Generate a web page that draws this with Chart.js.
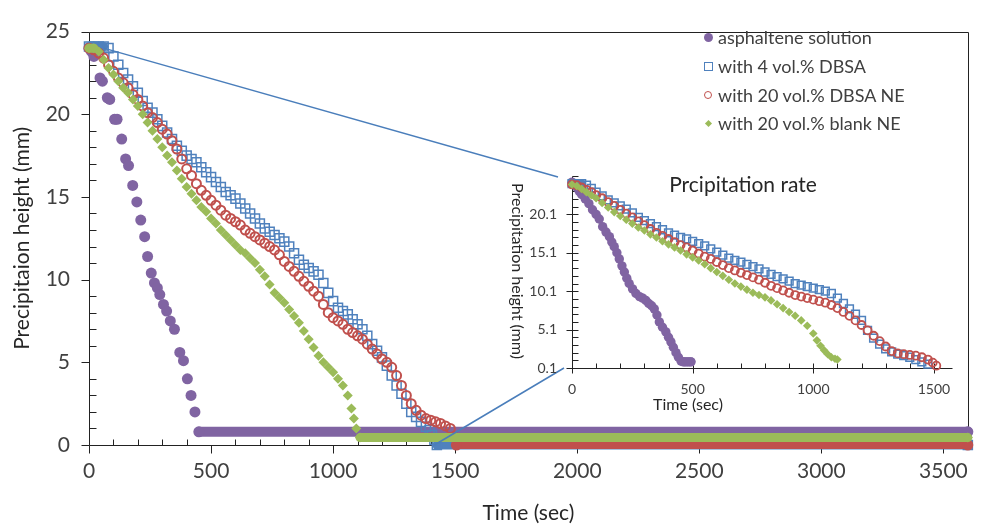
<!DOCTYPE html>
<html>
<head>
<meta charset="utf-8">
<script src="https://cdn.jsdelivr.net/npm/chart.js@4.4.0/dist/chart.umd.min.js"></script>
<style>
    html, body { margin: 0; padding: 0; background: #fff; }
    #wrap { position: relative; width: 982px; height: 529px; overflow: hidden; }
    #mainChart { position: absolute; left: 0; top: 0; }
    #insetChart { position: absolute; left: 480px; top: 150px; }
    #legend { position: absolute; left: 700px; top: 23px; font: 18px Lato, 'Open Sans', sans-serif; color: #404040; }
    #legend .row { height: 28.7px; display: flex; align-items: center; white-space: nowrap; }
    #legend .mk { width: 16px; height: 16px; margin-right: 2px; display: flex; align-items: center; justify-content: center; }
</style>
</head>
<body>
<div id="wrap">
    <canvas id="mainChart" width="982" height="529"></canvas>
    <canvas id="insetChart" width="490" height="280"></canvas>
    <div id="legend"></div>
</div>
<script>
const FONT = "Lato, 'Open Sans', sans-serif";

// series names and colours
const seriesNames = ['asphaltene solution', 'with 4 vol.% DBSA', 'with 20 vol.% DBSA NE', 'with 20 vol.% blank NE'];
const seriesColors = ['#8064A2', '#4F81BD', '#C0504D', '#9BBB59'];

// tick labels
const mainXTicks = [0, 500, 1000, 1500, 2000, 2500, 3000, 3500];
const mainYTicks = [0, 5, 10, 15, 20, 25];
const insetXTicks = [0, 500, 1000, 1500];
const insetYTicks = [0.1, 5.1, 10.1, 15.1, 20.1];

// main chart data: [time (sec), height (mm)]
const asphalteneMain = [[0,24.0],[10,23.8],[20,23.5],[45,22.2],[55,22.0],[75,21.0],[85,20.9],[105,19.7],[115,19.7],[134,18.5],[150,17.3],[162,16.9],[179,15.7],[196,14.7],[212,13.6],[228,12.6],[240,11.4],[255,10.4],[268,9.8],[280,9.5],[290,9.1],[305,8.5],[318,8.1],[333,7.5],[350,7.0],[372,5.6],[387,5.1],[403,4.0],[418,3.0],[434,2.0],[450,0.8],[3600,0.8]];
const dbsaMain = [[0,24.1],[20,24.1],[40,24.1],[60,24.1],[80,24.0],[100,23.5],[120,23.0],[140,22.5],[160,22.1],[180,21.7],[200,21.3],[220,20.8],[240,20.4],[260,20.1],[280,19.7],[300,19.3],[320,18.9],[340,18.5],[360,18.1],[380,17.8],[400,17.5],[420,17.3],[440,17.1],[460,16.8],[480,16.5],[500,16.2],[520,15.9],[540,15.6],[560,15.3],[580,15.1],[600,14.9],[620,14.6],[640,14.3],[660,14.0],[680,13.7],[700,13.4],[720,13.1],[740,12.9],[760,12.7],[780,12.5],[800,12.3],[820,12.0],[840,11.6],[860,11.2],[880,10.9],[900,10.7],[920,10.5],[940,10.3],[960,9.8],[980,9.2],[1000,8.7],[1020,8.3],[1040,8.1],[1060,7.9],[1080,7.6],[1100,7.3],[1120,7.0],[1140,6.6],[1160,6.1],[1180,5.7],[1200,5.3],[1220,4.8],[1240,4.2],[1260,3.6],[1280,3.1],[1300,2.5],[1320,2.0],[1340,1.7],[1360,1.4],[1380,1.1],[1395,0.9],[1405,0.6],[1415,0.3],[1425,0],[3600,0]];
const dbsaNeMain = [[0,24.0],[20,23.9],[40,23.7],[60,23.4],[80,23.0],[100,22.6],[120,22.2],[140,21.9],[160,21.6],[180,21.2],[200,20.9],[220,20.5],[240,20.1],[260,19.8],[280,19.5],[300,19.1],[320,18.8],[340,18.4],[360,17.9],[380,17.3],[400,16.7],[420,16.3],[440,15.8],[460,15.4],[480,15.1],[500,14.8],[520,14.5],[540,14.2],[560,13.9],[580,13.7],[600,13.5],[620,13.3],[640,13.0],[660,12.8],[680,12.6],[700,12.4],[720,12.2],[740,12.0],[760,11.8],[780,11.5],[800,11.1],[820,10.8],[840,10.5],[860,10.2],[880,9.9],[900,9.6],[920,9.3],[940,9.0],[960,8.5],[980,8.0],[1000,7.7],[1020,7.5],[1040,7.3],[1060,7.0],[1080,6.8],[1100,6.6],[1120,6.4],[1140,6.1],[1160,5.8],[1180,5.5],[1200,5.2],[1220,5.0],[1240,4.7],[1260,4.2],[1280,3.6],[1300,3.0],[1320,2.5],[1340,2.1],[1360,1.8],[1380,1.6],[1400,1.5],[1420,1.4],[1440,1.3],[1460,1.15],[1480,1.0],[1495,0.5],[1505,0],[3600,0]];
const blankNeMain = [[0,24.0],[20,24.0],[40,23.8],[60,23.3],[80,22.8],[100,22.4],[120,22.0],[140,21.6],[160,21.3],[180,20.9],[200,20.5],[220,20.0],[240,19.5],[260,19.0],[280,18.5],[300,18.0],[320,17.5],[340,17.1],[360,16.6],[380,16.1],[400,15.6],[420,15.2],[440,14.8],[460,14.4],[480,14.1],[500,13.7],[520,13.4],[540,13.0],[560,12.7],[580,12.4],[600,12.1],[620,11.8],[640,11.6],[660,11.3],[680,11.0],[700,10.6],[720,10.2],[740,9.7],[760,9.2],[780,8.9],[800,8.6],[820,8.2],[840,7.8],[860,7.4],[880,6.9],[900,6.4],[920,5.9],[940,5.4],[960,5.0],[980,4.7],[1000,4.4],[1020,4.0],[1040,3.6],[1060,3.0],[1075,2.2],[1085,1.6],[1095,1.0],[1110,0.45],[3600,0.45]];

// inset chart data: [time (sec), height (mm)]
const asphalteneInset = [[0,24.3],[10,24.1],[20,23.6],[30,23.1],[40,22.7],[55,22.1],[70,21.5],[85,20.7],[100,20.1],[113,19.5],[127,18.5],[141,17.8],[155,17.2],[165,16.5],[175,15.9],[186,15.1],[196,14.3],[207,13.4],[217,12.6],[227,11.8],[237,11.1],[251,10.4],[265,9.8],[280,9.4],[293,9.2],[306,8.9],[318,8.5],[330,8.2],[341,7.8],[352,7.0],[362,6.1],[375,5.4],[389,4.8],[400,4.1],[410,3.5],[420,2.8],[431,2.1],[441,1.5],[452,1.0],[462,0.9],[472,0.9],[483,0.9],[493,0.9]];
const dbsaInset = [[0,24.1],[20,24.1],[40,24.1],[60,23.9],[80,23.5],[100,23.0],[125,22.5],[150,22.0],[175,21.6],[200,21.2],[225,20.8],[250,20.3],[275,19.7],[300,19.3],[325,18.9],[350,18.5],[375,18.1],[400,17.7],[425,17.4],[450,17.1],[475,16.9],[500,16.6],[525,16.3],[550,16.0],[575,15.6],[600,15.2],[625,14.8],[650,14.4],[675,14.1],[700,13.9],[725,13.6],[750,13.3],[775,13.0],[800,12.6],[825,12.3],[850,12.0],[875,11.7],[900,11.4],[925,11.1],[950,10.9],[975,10.7],[1000,10.5],[1025,10.3],[1050,10.1],[1075,9.8],[1100,9.2],[1125,8.5],[1150,7.8],[1175,7.1],[1200,6.3],[1225,5.0],[1250,4.0],[1275,3.2],[1300,2.6],[1325,2.2],[1350,1.9],[1375,1.7],[1400,1.5],[1425,1.2],[1450,0.9],[1475,0.6]];
const dbsaNeInset = [[0,24.0],[20,23.9],[40,23.6],[60,23.3],[80,23.0],[100,22.6],[125,22.2],[150,21.7],[175,21.2],[200,20.7],[225,20.2],[250,19.7],[275,19.2],[300,18.7],[325,18.2],[350,17.7],[375,17.3],[400,16.9],[425,16.5],[450,16.1],[475,15.8],[500,15.4],[525,15.0],[550,14.6],[575,14.3],[600,13.9],[625,13.5],[650,13.1],[675,12.8],[700,12.5],[725,12.2],[750,11.9],[775,11.6],[800,11.2],[825,10.8],[850,10.5],[875,10.2],[900,9.9],[925,9.6],[950,9.4],[975,9.2],[1000,9.0],[1025,8.8],[1050,8.6],[1075,8.3],[1100,7.9],[1125,7.4],[1150,6.9],[1175,6.3],[1200,5.7],[1225,5.0],[1250,4.3],[1275,3.6],[1300,2.9],[1325,2.3],[1350,2.0],[1375,1.9],[1400,1.8],[1425,1.7],[1450,1.5],[1475,1.2],[1495,0.8],[1510,0.4]];
const blankNeInset = [[0,24.0],[20,23.8],[40,23.4],[60,23.0],[80,22.6],[100,22.2],[125,21.6],[150,21.0],[175,20.4],[200,19.9],[225,19.4],[250,18.9],[275,18.4],[300,18.0],[325,17.5],[350,17.1],[375,16.6],[400,16.2],[425,15.8],[450,15.4],[475,14.9],[500,14.5],[525,14.1],[550,13.6],[575,13.1],[600,12.6],[625,12.1],[650,11.6],[675,11.1],[700,10.7],[725,10.3],[750,9.9],[775,9.6],[800,9.3],[825,8.9],[850,8.4],[875,7.9],[900,7.4],[925,6.9],[950,6.3],[975,5.6],[1000,4.6],[1015,3.7],[1030,3.0],[1045,2.4],[1060,1.9],[1075,1.5],[1090,1.3],[1100,1.2]];

// marker looks, main chart and inset
const mainStyles = [
    {shape: 'circle', r: 5.5, bw: 0, filled: true, band: 10},
    {shape: 'rect', r: 6.4, bw: 1.5, filled: false, band: 9},
    {shape: 'circle', r: 4.5, bw: 2, filled: false, band: 8},
    {shape: 'rectRot', r: 5, bw: 0, filled: true, band: 9}
];
const insetStyles = [
    {shape: 'circle', r: 4.7, bw: 0, filled: true, band: 9},
    {shape: 'rect', r: 5.5, bw: 1.5, filled: false, band: 8},
    {shape: 'circle', r: 4, bw: 1.8, filled: false, band: 8},
    {shape: 'rectRot', r: 4.3, bw: 0, filled: true, band: 8}
];

Chart.defaults.font.family = FONT;

function makeDataset(i, pts, st) {
    const color = seriesColors[i];
    return {
        label: seriesNames[i],
        data: pts.map(p => ({x: p[0], y: p[1]})),
        order: 4 - i, // green on top, like the original
        showLine: true,
        borderWidth: st.band,
        borderColor: 'rgba(0,0,0,0)',
        borderCapStyle: 'round',
        // flat runs are so dense in the original that they read as a solid band
        segment: {
            borderColor: c => c.p0.parsed.y === c.p1.parsed.y ? color : 'rgba(0,0,0,0)'
        },
        pointStyle: st.shape,
        pointRadius: st.r,
        pointBorderWidth: st.bw,
        pointBorderColor: color,
        pointBackgroundColor: st.filled ? color : 'rgba(0,0,0,0)',
        clip: false
    };
}

// axis lines + Excel style tick marks (major outside, minor inside)
function axisPlugin(o) {
    return {
        id: 'axisMarks',
        beforeDatasetsDraw(chart) {
            const ctx = chart.ctx, a = chart.chartArea;
            const xs = chart.scales.x, ys = chart.scales.y;
            const snap = v => Math.round(v) + 0.5;
            const L = snap(a.left), R = snap(a.right), T = snap(a.top), B = snap(a.bottom);
            ctx.save();
            ctx.strokeStyle = '#222';
            ctx.lineWidth = 1;
            ctx.beginPath();
            if (o.frame) {
                ctx.rect(L, T, R - L, B - T);
            } else {
                ctx.moveTo(L, T); ctx.lineTo(L, B); ctx.lineTo(R, B);
            }
            o.xMajor.forEach(v => {
                const px = snap(xs.getPixelForValue(v));
                ctx.moveTo(px, B + o.xMajorLen[0]); ctx.lineTo(px, B + o.xMajorLen[1]);
            });
            for (let i = 0; ; i++) {
                const v = o.xMin + i * o.xMinorStep;
                if (v > o.xMax + 1e-6) break;
                if (o.xMajor.some(m => Math.abs(m - v) < 1e-6)) continue;
                const px = snap(xs.getPixelForValue(v));
                ctx.moveTo(px, B + o.xMinorLen[0]); ctx.lineTo(px, B + o.xMinorLen[1]);
            }
            o.yMajor.forEach(v => {
                const py = snap(ys.getPixelForValue(v));
                ctx.moveTo(L + o.yMajorLen[0], py); ctx.lineTo(L + o.yMajorLen[1], py);
            });
            for (let i = 0; ; i++) {
                const v = o.yMin + i * o.yMinorStep;
                if (v > o.yMax + 1e-6) break;
                if (o.yMajor.some(m => Math.abs(m - v) < 1e-6)) continue;
                const py = snap(ys.getPixelForValue(v));
                ctx.moveTo(L + o.yMinorLen[0], py); ctx.lineTo(L + o.yMinorLen[1], py);
            }
            ctx.stroke();
            ctx.restore();
        }
    };
}

// ---------- inset chart ----------
const insetPos = {left: 480, top: 150};
const insetTexts = {
    id: 'insetTexts',
    afterDraw(chart) {
        const ctx = chart.ctx;
        ctx.save();
        ctx.fillStyle = '#262626';
        ctx.textAlign = 'center';
        ctx.textBaseline = 'alphabetic';
        ctx.font = '21px ' + FONT;
        ctx.fillText('Prcipitation rate', 263, 42);
        ctx.font = '16px ' + FONT;
        ctx.textBaseline = 'middle';
        ctx.fillText('Time (sec)', 208, 255);
        ctx.translate(37, 121);
        ctx.rotate(Math.PI / 2);
        ctx.fillText('Precipitation height (mm)', 0, 0);
        ctx.restore();
    }
};

const insetChart = new Chart(document.getElementById('insetChart'), {
    type: 'scatter',
    data: {
        datasets: [
            makeDataset(0, asphalteneInset, insetStyles[0]),
            makeDataset(1, dbsaInset, insetStyles[1]),
            makeDataset(2, dbsaNeInset, insetStyles[2]),
            makeDataset(3, blankNeInset, insetStyles[3])
        ]
    },
    options: {
        responsive: false,
        animation: false,
        events: [],
        layout: {padding: {top: 26, right: 18, left: 0, bottom: 0}},
        plugins: {legend: {display: false}, tooltip: {enabled: false}},
        scales: {
            x: {
                type: 'linear', min: 0, max: 1575,
                afterBuildTicks: s => { s.ticks = insetXTicks.map(v => ({value: v})); },
                afterFit: s => { s.height = 62; },
                grid: {display: false, drawTicks: false},
                border: {display: false},
                ticks: {font: {size: 14}, color: '#404040', padding: 13, maxRotation: 0, autoSkip: false, callback: v => String(v)}
            },
            y: {
                type: 'linear', min: 0.1, max: 25.1,
                afterBuildTicks: s => { s.ticks = insetYTicks.map(v => ({value: v})); },
                afterFit: s => { s.width = 92; },
                grid: {display: false, drawTicks: false},
                border: {display: false},
                ticks: {font: {size: 14}, color: '#404040', padding: 15, autoSkip: false, callback: v => String(v)}
            }
        }
    },
    plugins: [axisPlugin({
        frame: false,
        xMajor: insetXTicks, xMin: 0, xMax: 1500, xMinorStep: 100, xMajorLen: [-5, 5], xMinorLen: [-5, 0],
        yMajor: insetYTicks, yMin: 0.1, yMax: 25.1, yMinorStep: 1, yMajorLen: [-6, 6], yMinorLen: [0, 6]
    }), insetTexts]
});

// ---------- main chart ----------
// zoom connectors: from the main curves to the inset corners
const connectors = {
    id: 'connectors',
    afterDatasetsDraw(chart) {
        const ctx = chart.ctx, xs = chart.scales.x, ys = chart.scales.y;
        const ia = insetChart.chartArea;
        ctx.save();
        ctx.strokeStyle = '#4A7EBB';
        ctx.lineWidth = 1.5;
        ctx.beginPath();
        ctx.moveTo(xs.getPixelForValue(60), ys.getPixelForValue(24.0));
        ctx.lineTo(insetPos.left + ia.left - 14, insetPos.top + ia.top + 1);
        ctx.moveTo(xs.getPixelForValue(1415), ys.getPixelForValue(0));
        ctx.lineTo(insetPos.left + ia.left - 8, insetPos.top + ia.bottom);
        ctx.stroke();
        ctx.restore();
    }
};

new Chart(document.getElementById('mainChart'), {
    type: 'scatter',
    data: {
        datasets: [
            makeDataset(0, asphalteneMain, mainStyles[0]),
            makeDataset(1, dbsaMain, mainStyles[1]),
            makeDataset(2, dbsaNeMain, mainStyles[2]),
            makeDataset(3, blankNeMain, mainStyles[3])
        ]
    },
    options: {
        responsive: false,
        animation: false,
        events: [],
        layout: {padding: {top: 17, right: 5, left: 0, bottom: 0}},
        plugins: {legend: {display: false}, tooltip: {enabled: false}},
        scales: {
            x: {
                type: 'linear', min: 0, max: 3600,
                afterBuildTicks: s => { s.ticks = mainXTicks.map(v => ({value: v})); },
                afterFit: s => { s.height = 84; },
                grid: {display: false, drawTicks: false},
                border: {display: false},
                ticks: {font: {size: 21}, color: '#404040', padding: 14, maxRotation: 0, autoSkip: false, callback: v => String(v)},
                title: {display: true, text: 'Time (sec)', font: {size: 21}, color: '#262626', padding: {top: 0, bottom: 3}}
            },
            y: {
                type: 'linear', min: 0, max: 25,
                afterBuildTicks: s => { s.ticks = mainYTicks.map(v => ({value: v})); },
                afterFit: s => { s.width = 89; },
                grid: {display: false, drawTicks: false},
                border: {display: false},
                ticks: {font: {size: 21}, color: '#404040', padding: 19, autoSkip: false, callback: v => String(v)},
                title: {display: true, text: 'Precipitaion height (mm)', font: {size: 21, weight: 'normal'}, color: '#262626', padding: {top: 10, bottom: 0}}
            }
        }
    },
    plugins: [axisPlugin({
        frame: true,
        xMajor: mainXTicks, xMin: 0, xMax: 3600, xMinorStep: 100, xMajorLen: [0, 8], xMinorLen: [-6, 0],
        yMajor: mainYTicks, yMin: 0, yMax: 25, yMinorStep: 1, yMajorLen: [-8, 0], yMinorLen: [0, 7]
    }), connectors]
});

// legend, in the top right corner of the plot
const legendMarks = [
    '<span style="width:9px;height:9px;border-radius:50%;background:#8064A2"></span>',
    '<span style="width:7px;height:7px;border:1.5px solid #4F81BD"></span>',
    '<span style="width:6px;height:6px;border-radius:50%;border:1.5px solid #C0504D"></span>',
    '<span style="width:5px;height:5px;transform:rotate(45deg);background:#9BBB59"></span>'
];
const legendEl = document.getElementById('legend');
seriesNames.forEach((name, i) => {
    const row = document.createElement('div');
    row.className = 'row';
    row.innerHTML = '<span class="mk">' + legendMarks[i] + '</span><span></span>';
    row.lastChild.textContent = name;
    legendEl.appendChild(row);
});
</script>
</body>
</html>
